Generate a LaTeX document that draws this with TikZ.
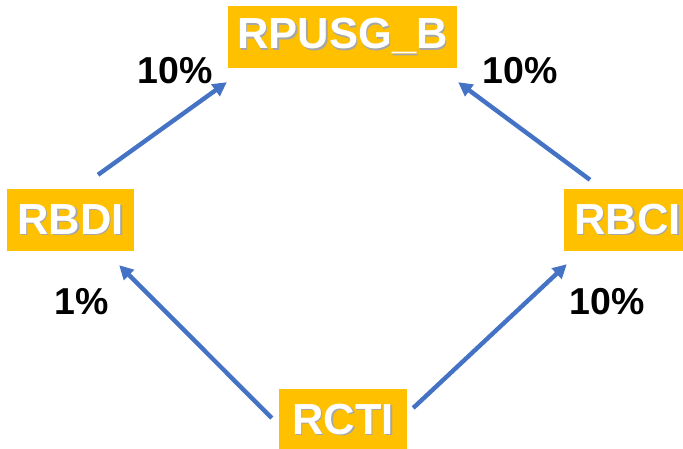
\documentclass[tikz,border=0pt]{standalone}
\usepackage{fontspec}
\setmainfont{Liberation Sans}
\usetikzlibrary{arrows.meta}
\definecolor{boxgold}{HTML}{FFC000}
\definecolor{arrowblue}{HTML}{4472C4}
% white lettering with a soft drop shadow
\newcommand\shadowed[1]{\makebox[0pt][l]{\kern1.6pt\raisebox{-1.6pt}{\color{black!35}#1}}#1}
\tikzset{
  boxnode/.style={fill=boxgold, text=white, font=\bfseries\fontsize{43.5}{50}\selectfont,
    minimum height=62pt, inner sep=0pt, anchor=center},
  pct/.style={font=\bfseries\fontsize{37.5}{44}\selectfont, text=black, inner sep=0pt},
  arr/.style={draw=arrowblue, line width=4.4pt, -{Triangle[length=14pt,width=14pt]}},
}
\begin{document}
\begin{tikzpicture}[x=1pt,y=-1pt]
  \useasboundingbox (0,0) rectangle (683,449);
  \clip (0,0) rectangle (683,449);

  % boxes
  \node[boxnode, minimum width=229pt] (rpusg) at (342.5,37) {\shadowed{RPUSG\_B}};
  \node[boxnode, minimum width=127pt] (rbdi) at (70.5,220) {\shadowed{RBDI}};
  \node[boxnode, minimum width=127pt] (rbci) at (627.5,220) {\shadowed{RBCI}};
  \node[boxnode, minimum width=128pt] (rcti) at (343,420) {\shadowed{RCTI}};

  % percentage labels
  \node[pct] (ltop) at (175,71) {10\%};
  \node[pct] (rtop) at (520,71) {10\%};
  \node[pct] (lbot) at (82,302) {1\%};
  \node[pct] (rbot) at (607,302) {10\%};

  % arrows
  \draw[arr] ([shift={(27.5,-14)}]rbdi.north) -- ([shift={(-1,14)}]rpusg.south west);
  \draw[arr] ([shift={(-37.5,-9)}]rbci.north) -- ([shift={(1,14)}]rpusg.south east);
  \draw[arr] ([shift={(-7,-2)}]rcti.west) -- ([shift={(-15,14)}]rbdi.south east);
  \draw[arr] ([shift={(6,-12)}]rcti.east) -- ([shift={(3,13)}]rbci.south west);
\end{tikzpicture}
\end{document}
